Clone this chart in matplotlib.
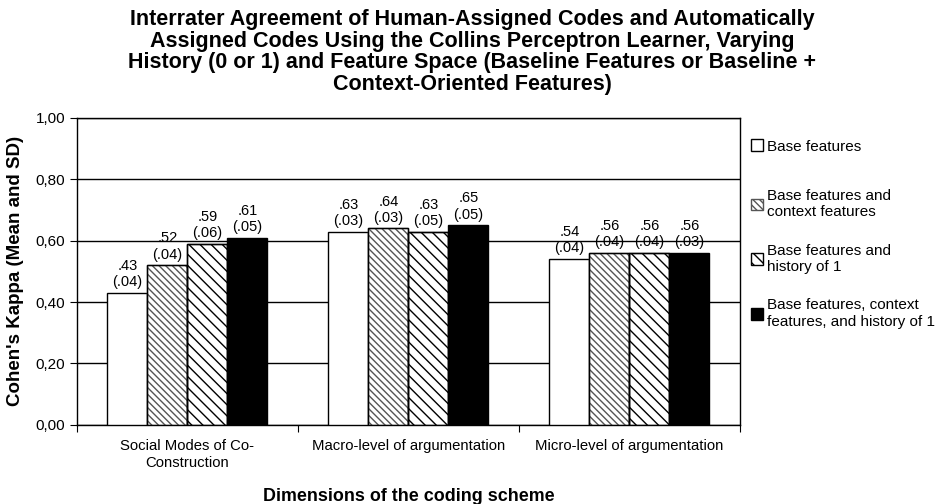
import matplotlib.pyplot as plt
import numpy as np

plt.rcParams['font.family'] = ['Liberation Sans', 'DejaVu Sans']
plt.rcParams['hatch.linewidth'] = 1.0

# data
categories = ['Social Modes of Co-\nConstruction', 'Macro-level of argumentation',
              'Micro-level of argumentation']
series = ['Base features', 'Base features and\ncontext features',
          'Base features and\nhistory of 1', 'Base features, context\nfeatures, and history of 1']
means = [
    [0.43, 0.63, 0.54],
    [0.52, 0.64, 0.56],
    [0.59, 0.63, 0.56],
    [0.61, 0.65, 0.56],
]
sds = [
    [0.04, 0.03, 0.04],
    [0.04, 0.03, 0.04],
    [0.06, 0.05, 0.04],
    [0.05, 0.05, 0.03],
]

fills = ['white', 'white', 'white', 'black']
hatches = [None, '\\\\\\\\\\', '\\\\\\', None]
hatch_cols = ['black', '#555555', 'black', 'black']

fig = plt.figure(figsize=(9.41, 5.04), dpi=100)
ax = fig.add_axes([0.0818, 0.157, 0.7044, 0.609])

x = np.arange(len(categories))
w = 0.181
for i in range(4):
    pos = x + (i - 1.5) * w
    bars = ax.bar(pos, means[i], w, color=fills[i], edgecolor='black', linewidth=1.0,
                  hatch=hatches[i], label=series[i], zorder=3)
    if hatches[i]:
        for b in bars:
            b.set_edgecolor(hatch_cols[i])
        # outline drawn separately so the hatch colour can differ
        ax.bar(pos, means[i], w, fill=False, edgecolor='black', linewidth=1.0, zorder=4)
    for p, m, s in zip(pos, means[i], sds[i]):
        ax.text(p, m + 0.012, ('%.2f' % m)[1:] + '\n(' + ('%.2f' % s)[1:] + ')',
                ha='center', va='bottom', fontsize=10.5, linespacing=1.2)

ax.set_xlim(-0.5, 2.5)
ax.set_ylim(0, 1.0)
yt = np.arange(0, 1.01, 0.2)
ax.set_yticks(yt)
ax.set_yticklabels([('%.2f' % v).replace('.', ',') for v in yt])
ax.yaxis.grid(True, color='black', linewidth=1.0, zorder=0)
ax.set_axisbelow(True)

ax.set_xticks([-0.5, 0.5, 1.5, 2.5])
ax.set_xticklabels([])
ax.set_xticks(x, minor=True)
ax.set_xticklabels(categories, minor=True, fontsize=10.7, linespacing=1.3)
ax.tick_params(axis='x', which='minor', length=0, pad=10)
ax.tick_params(axis='x', which='major', length=5, direction='out')
ax.tick_params(axis='y', length=5, direction='out', labelsize=11)

for sp in ax.spines.values():
    sp.set_linewidth(1.0)

ax.set_ylabel("Cohen's Kappa (Mean and SD)", fontsize=13.5, fontweight='bold', labelpad=8)
fig.text(0.434, 0.014, 'Dimensions of the coding scheme', fontsize=12.9, fontweight='bold',
         ha='center', va='center')

fig.suptitle('Interrater Agreement of Human-Assigned Codes and Automatically\n'
             'Assigned Codes Using the Collins Perceptron Learner, Varying\n'
             'History (0 or 1) and Feature Space (Baseline Features or Baseline +\n'
             'Context-Oriented Features)',
             x=0.502, y=0.983, fontsize=15.5, fontweight='bold', linespacing=1.06)

# legend: first (one-line) entry separate so the spacing matches the original
handles, labels = ax.get_legend_handles_labels()
leg_kw = dict(loc='upper left', frameon=False, fontsize=11, handlelength=0.8,
              handleheight=0.8, handletextpad=0.25, borderaxespad=0.3)
leg1 = ax.legend(handles[:1], labels[:1], bbox_to_anchor=(1.0, 0.965), **leg_kw)
ax.add_artist(leg1)
ax.legend(handles[1:], labels[1:], bbox_to_anchor=(1.0, 0.803), labelspacing=1.6, **leg_kw)

fig.savefig('out.png', dpi=100)
